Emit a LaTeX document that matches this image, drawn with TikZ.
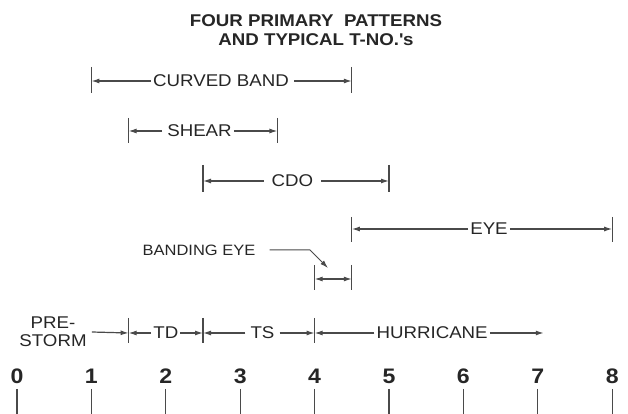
\documentclass[tikz,border=0pt]{standalone}
\usepackage{fontspec}
\setmainfont{Liberation Sans}[FakeStretch=1.1]
\usetikzlibrary{arrows.meta}
\definecolor{ink}{HTML}{262626}
\definecolor{rule}{HTML}{4A4A4A}

\begin{document}
\begin{tikzpicture}[x=74.4pt, y=-1pt, >={Latex[length=8pt,width=5pt]},
  lbl/.style={text=ink, inner sep=2pt, font=\fontsize{17}{18}\selectfont},
  num/.style={text=ink, inner sep=0pt, font=\fontsize{21}{24}\bfseries\selectfont},
  bar/.style={draw=rule, line width=1.2pt},
  span/.style={draw=rule, line width=1.2pt, ->}]
		%%%%% FRAME %%%%%
		\useasboundingbox (-0.2285, 0) rectangle (8.2124, 414);
		
		\node[text=ink, align=center, font=\fontsize{17}{19}\bfseries\selectfont] (title) at (4.019, 30)
			{FOUR PRIMARY\ \ PATTERNS\\AND TYPICAL T-NO.\textquotesingle s};
		
		%%%%% PATTERNS %%%%%
		\draw[bar] (1, 67) -- (1, 93);
		\draw[bar] (4.5, 67) -- (4.5, 93);
		\coordinate (cbL) at (1, 81);
		\coordinate (cbR) at (4.5, 81);
		\node[lbl] (cb) at (2.742, 81) {CURVED BAND};
		\draw[span] (cb) -- (cbL);
		\draw[span] ([xshift=3pt]cb.east) -- (cbR);
		
		\draw[bar] (1.5, 118) -- (1.5, 143);
		\draw[bar] (3.5, 118) -- (3.5, 143);
		\coordinate (shL) at (1.5, 131);
		\coordinate (shR) at (3.5, 131);
		\node[lbl] (sh) at (2.453, 131) {SHEAR};
		\draw[span] ([xshift=-3pt]sh.west) -- (shL);
		\draw[span] (sh) -- (shR);
		
		\draw[bar] (2.5, 165) -- (2.5, 192);
		\draw[bar] (5, 165) -- (5, 192);
		\coordinate (cdoL) at (2.5, 181);
		\coordinate (cdoR) at (5, 181);
		\node[lbl] (cdo) at (3.703, 181) {CDO};
		\draw[span] ([xshift=-6pt]cdo.west) -- (cdoL);
		\draw[span] ([xshift=6pt]cdo.east) -- (cdoR);
		
		\draw[bar] (4.5, 217) -- (4.5, 242);
		\draw[bar] (8, 217) -- (8, 242);
		\coordinate (eyeL) at (4.5, 229);
		\coordinate (eyeR) at (8, 229);
		\node[lbl] (eye) at (6.344, 229) {EYE};
		\draw[span] (eye) -- (eyeL);
		\draw[span] (eye) -- (eyeR);
		
		\draw[bar] (4, 265) -- (4, 290);
		\draw[bar] (4.5, 265) -- (4.5, 290);
		\coordinate (beL) at (4, 279);
		\coordinate (beR) at (4.5, 279);
		\draw[span, <->] (beL) -- (beR);
		
		\node[lbl, font=\fontsize{15}{16}\selectfont] (be) at (2.446, 250) {BANDING EYE};
		\coordinate (bend) at (3.938, 250);
		\coordinate (tip) at (4.180, 268);
		\draw[span, line width=1pt] ([xshift=12pt]be.east) -- (bend) -- (tip);
		
		%%%%% STAGES %%%%%
		\draw[bar] (1.5, 318) -- (1.5, 343);
		\draw[bar] (2.5, 318) -- (2.5, 343);
		\draw[bar] (4, 318) -- (4, 343);
		\coordinate (s1) at (1.5, 333);
		\coordinate (s2) at (2.5, 333);
		\coordinate (s3) at (4, 333);
		\coordinate (s4) at (7.08, 333);
		
		\node[lbl, align=center] (pre) at (0.484, 332) {PRE-\\STORM};
		\draw[span] ([xshift=3pt]pre.east) -- (s1);
		\node[lbl] (td) at (2, 333) {TD};
		\draw[span] (td) -- (s1);
		\draw[span] (td) -- (s2);
		\node[lbl] (ts) at (3.30, 333) {TS};
		\draw[span] ([xshift=-3pt]ts.west) -- (s2);
		\draw[span] ([xshift=3pt]ts.east) -- (s3);
		\node[lbl] (hur) at (5.58, 333) {HURRICANE};
		\draw[span] (hur) -- (s3);
		\draw[span] (hur) -- (s4);
		
		%%%%% T-NUMBERS %%%%%
		\foreach \t in {0,...,8} {
			\node[num] (n\t) at (\t, 376) {\t};
			\draw[bar] (\t, 389) -- (\t, 414);
		}
		
	\end{tikzpicture}
\end{document}
